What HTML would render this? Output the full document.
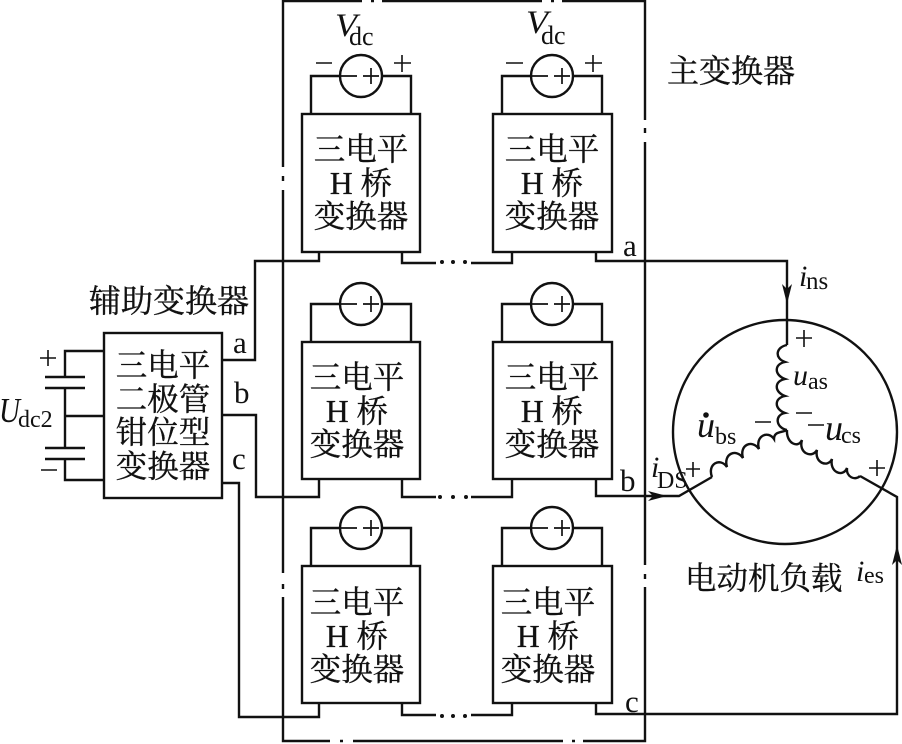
<!DOCTYPE html>
<html><head><meta charset="utf-8"><style>
html,body{margin:0;padding:0;background:#fff}
svg{display:block}
.cjk{font-family:"Liberation Serif","Noto Serif CJK SC",serif;font-size:31.5px;fill:#111;stroke:#111;stroke-width:.35px}
.lat{font-family:"Liberation Serif",serif;fill:#111}
.it{font-style:italic}
</style></head><body>
<svg width="902" height="744" viewBox="0 0 902 744" xmlns="http://www.w3.org/2000/svg">
<defs>
<g id="src" fill="none" stroke="#111" stroke-width="2.4">
<path d="M-50 38V0H50V38"/>
<circle cx="0" cy="0" r="21" fill="#fff"/>
<path d="M-20 0H-4M2 0H18M10-8V8" stroke-width="1.7"/>
</g>
</defs>
<g fill="none" stroke="#111" stroke-width="2.4">
<path d="M283 167V1H362M382 1H542M562 1H645V120M645 142V565M645 587V741H583M563 741H353M330 741H283V597M283 573V190"/>
<path d="M283 176V181M645 128V133M645 574V579M283 584V589M371 1H374M551 1H554M340 741H343M572 741H575"/>
<rect x="302" y="114" width="118" height="138"/><rect x="493" y="114" width="119" height="138"/>
<rect x="302" y="342" width="118" height="137"/><rect x="493" y="342" width="119" height="137"/>
<rect x="302" y="566" width="118" height="137"/><rect x="493" y="566" width="119" height="137"/>
<rect x="104" y="333" width="118" height="165"/>
<path d="M222 360H255V261H319V252"/>
<path d="M402 252V263H436M471 263H512V252"/>
<path d="M596 252V261H787V345"/>
<path d="M222 415H256V497H319V479"/>
<path d="M402 479V497H436M471 497H512V479"/>
<path d="M596 479V496H679L712 477"/>
<path d="M222 483H239V717H319V703"/>
<path d="M402 703V715H436M471 715H512V703"/>
<path d="M596 703V714H897V497L860 476"/>
<path d="M104 351H65V377M65 388V448M65 459V480H104M65 416H104"/>
<path d="M45 377H85M45 388H85M45 448H85M45 459H85"/>
<circle cx="785" cy="432" r="112"/>
<path d="M787 345C776 347 774 358 785 362C774 364 774 375 785 379C774 381 774 392 785 396C774 398 774 409 785 413C774 415 776 428 787 430"/>
<path d="M712 477C707 464 720 457 727 467C723 454 736 448 743 458C739 445 752 439 759 449C755 436 768 430 774 439C774 431 782 433 787 430"/>
<path d="M787 430C786 443 798 449 802 440C798 453 812 459 817 450C814 463 828 468 832 459C829 472 843 478 847 468C846 477 855 481 860 476"/>
</g>
<use href="#src" x="361" y="76"/><use href="#src" x="552" y="76"/>
<use href="#src" x="361" y="304"/><use href="#src" x="552" y="304"/>
<use href="#src" x="361" y="528"/><use href="#src" x="552" y="528"/>
<g fill="#111">
<circle cx="442" cy="262" r="2"/><circle cx="453" cy="262" r="2"/><circle cx="465" cy="262" r="2"/>
<circle cx="440" cy="497" r="2"/><circle cx="453" cy="497" r="2"/><circle cx="466" cy="497" r="2"/>
<circle cx="442" cy="716" r="2"/><circle cx="453" cy="716" r="2"/><circle cx="465" cy="716" r="2"/>
<circle cx="706" cy="415" r="2.8"/>
<path d="M787 304L782 284L787 289L792 284Z"/>
<path d="M667 496L648 491L653 496L648 501Z"/>
<path d="M897 545L892 565L897 560L902 565Z"/>
</g>
<g stroke="#111" stroke-width="1.6" fill="none">
<path d="M316 63H332M394 63H411M402 55V72M506 63H523M585 63H602M593 55V72"/>
<path d="M40 358H56M48 350V366M41 470H57"/>
<path d="M796 338H812M804 330V347M796 413H812M808 425H824"/>
<path d="M755 422H771M869 468H885M877 460V476M686 469H700M693 462V477"/>
</g>
<g class="cjk" text-anchor="middle">
<text x="361" y="160">三电平</text><text x="361" y="194"><tspan class="lat">H</tspan> 桥</text><text x="361" y="227">变换器</text>
<text x="552" y="160">三电平</text><text x="552" y="194"><tspan class="lat">H</tspan> 桥</text><text x="552" y="227">变换器</text>
<text x="357" y="388">三电平</text><text x="357" y="422"><tspan class="lat">H</tspan> 桥</text><text x="357" y="455">变换器</text>
<text x="552" y="388">三电平</text><text x="552" y="422"><tspan class="lat">H</tspan> 桥</text><text x="552" y="455">变换器</text>
<text x="357" y="613">三电平</text><text x="357" y="647"><tspan class="lat">H</tspan> 桥</text><text x="357" y="680">变换器</text>
<text x="548" y="613">三电平</text><text x="548" y="647"><tspan class="lat">H</tspan> 桥</text><text x="548" y="680">变换器</text>
<text x="163" y="376">三电平</text><text x="163" y="410">二极管</text><text x="163" y="443">钳位型</text><text x="163" y="477">变换器</text>
</g>
<g class="cjk">
<text x="667" y="82" style="font-size:32px">主变换器</text>
<text x="89" y="312" style="font-size:32px">辅助变换器</text>
<text x="685" y="589">电动机负载</text>
</g>
<g class="lat" font-size="31">
<text x="623" y="256">a</text><text x="233" y="353">a</text>
<text x="234" y="403">b</text><text x="232" y="469">c</text>
<text x="620" y="491">b</text><text x="625" y="712">c</text>
</g>
<g class="lat">
<text x="335" y="36" font-size="33" class="it" textLength="22" lengthAdjust="spacingAndGlyphs">V</text><text x="349" y="45" font-size="26">dc</text>
<text x="526" y="33" font-size="33" class="it" textLength="22" lengthAdjust="spacingAndGlyphs">V</text><text x="541" y="44" font-size="26">dc</text>
<text x="-1" y="422" font-size="35" class="it" textLength="21" lengthAdjust="spacingAndGlyphs">U</text><text x="18" y="427" font-size="24">dc2</text>
<text x="799" y="286" font-size="30" class="it">i</text><text x="806" y="289" font-size="25">ns</text>
<text x="793" y="385" font-size="30" class="it">u</text><text x="808" y="389" font-size="24">as</text>
<text x="697" y="437" font-size="36" class="it">u</text><text x="715" y="444" font-size="24">bs</text>
<text x="825" y="440" font-size="36" class="it">u</text><text x="841" y="443" font-size="24">cs</text>
<text x="651" y="477" font-size="30" class="it">i</text><text x="657" y="488" font-size="24">DS</text>
<text x="856" y="581" font-size="30" class="it">i</text><text x="864" y="583" font-size="24">es</text>
</g>
</svg>
</body></html>
